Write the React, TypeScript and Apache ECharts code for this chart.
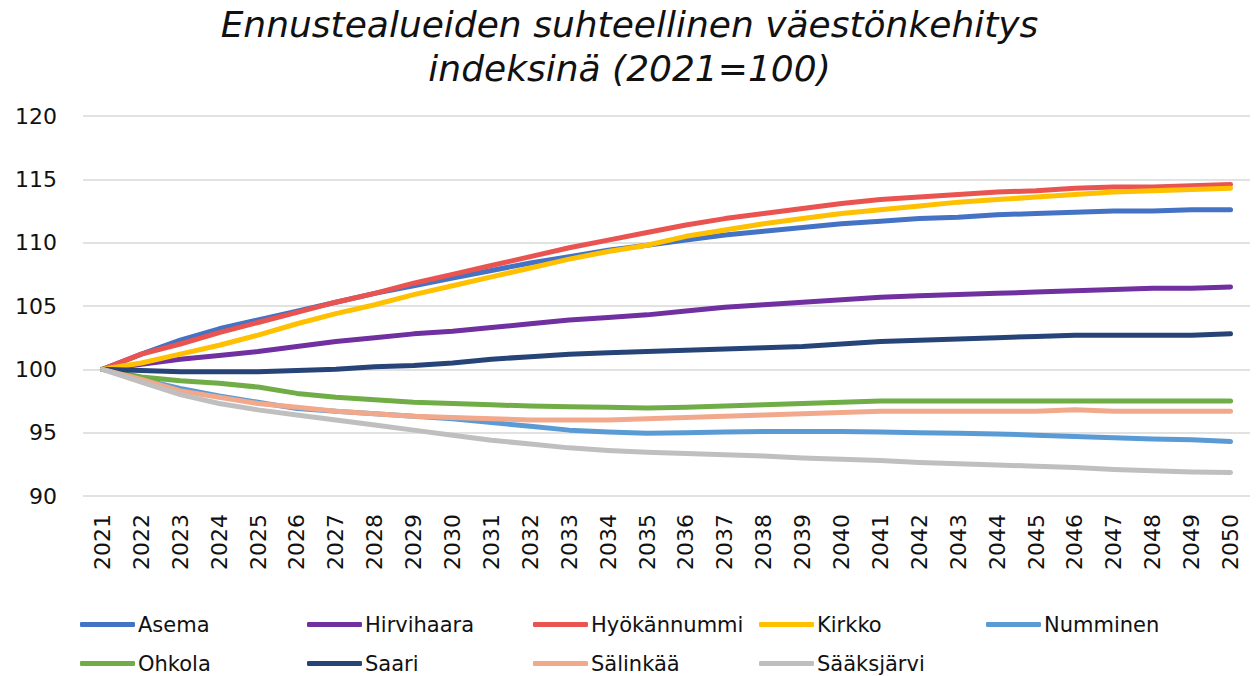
import React, { useEffect, useRef } from "react";
import * as echarts from "echarts";

const years = [
  "2021","2022","2023","2024","2025","2026","2027","2028","2029","2030",
  "2031","2032","2033","2034","2035","2036","2037","2038","2039","2040",
  "2041","2042","2043","2044","2045","2046","2047","2048","2049","2050",
];

const asema = [100, 101.2, 102.3, 103.2, 103.9, 104.6, 105.3, 106.0, 106.6, 107.2, 107.8, 108.4, 108.9, 109.4, 109.8, 110.2, 110.6, 110.9, 111.2, 111.5, 111.7, 111.9, 112.0, 112.2, 112.3, 112.4, 112.5, 112.5, 112.6, 112.6];
const hirvihaara = [100, 100.4, 100.8, 101.1, 101.4, 101.8, 102.2, 102.5, 102.8, 103.0, 103.3, 103.6, 103.9, 104.1, 104.3, 104.6, 104.9, 105.1, 105.3, 105.5, 105.7, 105.8, 105.9, 106.0, 106.1, 106.2, 106.3, 106.4, 106.4, 106.5];
const hyokannummi = [100, 101.2, 102.0, 102.9, 103.7, 104.5, 105.3, 106.0, 106.8, 107.5, 108.2, 108.9, 109.6, 110.2, 110.8, 111.4, 111.9, 112.3, 112.7, 113.1, 113.4, 113.6, 113.8, 114.0, 114.1, 114.3, 114.4, 114.4, 114.5, 114.6];
const kirkko = [100, 100.5, 101.2, 101.9, 102.7, 103.6, 104.4, 105.1, 105.9, 106.6, 107.3, 108.0, 108.7, 109.3, 109.8, 110.5, 111.0, 111.5, 111.9, 112.3, 112.6, 112.9, 113.2, 113.4, 113.6, 113.8, 114.0, 114.1, 114.2, 114.3];
const numminen = [100, 99.2, 98.5, 97.9, 97.4, 96.9, 96.7, 96.5, 96.3, 96.1, 95.8, 95.5, 95.2, 95.05, 94.95, 95.0, 95.05, 95.1, 95.1, 95.1, 95.05, 95.0, 94.95, 94.9, 94.8, 94.7, 94.6, 94.5, 94.45, 94.3];
const ohkola = [100, 99.4, 99.1, 98.9, 98.6, 98.1, 97.8, 97.6, 97.4, 97.3, 97.2, 97.1, 97.05, 97.0, 96.95, 97.0, 97.1, 97.2, 97.3, 97.4, 97.5, 97.5, 97.5, 97.5, 97.5, 97.5, 97.5, 97.5, 97.5, 97.5];
const saari = [100, 99.9, 99.8, 99.8, 99.8, 99.9, 100.0, 100.2, 100.3, 100.5, 100.8, 101.0, 101.2, 101.3, 101.4, 101.5, 101.6, 101.7, 101.8, 102.0, 102.2, 102.3, 102.4, 102.5, 102.6, 102.7, 102.7, 102.7, 102.7, 102.8];
const salinkaa = [100, 99.2, 98.3, 97.8, 97.3, 97.0, 96.7, 96.5, 96.3, 96.2, 96.1, 96.0, 96.0, 96.0, 96.1, 96.2, 96.3, 96.4, 96.5, 96.6, 96.7, 96.7, 96.7, 96.7, 96.7, 96.8, 96.7, 96.7, 96.7, 96.7];
const saaksjarvi = [100, 99.0, 98.0, 97.3, 96.8, 96.4, 96.0, 95.6, 95.2, 94.8, 94.4, 94.1, 93.8, 93.6, 93.45, 93.35, 93.25, 93.15, 93.0, 92.9, 92.8, 92.65, 92.55, 92.45, 92.35, 92.25, 92.1, 92.0, 91.9, 91.85];

const seriesNames = ["Asema", "Hirvihaara", "Hyökännummi", "Kirkko", "Numminen", "Ohkola", "Saari", "Sälinkää", "Sääksjärvi"];
const seriesValues = [asema, hirvihaara, hyokannummi, kirkko, numminen, ohkola, saari, salinkaa, saaksjarvi];
const colors = ["#4472C4", "#7030A0", "#EA5450", "#FFC000", "#5B9BD5", "#70AD47", "#264478", "#F2A98B", "#BFBFBF"];

const legendPos = [
  { left: 80, top: 614 }, { left: 307, top: 614 }, { left: 533, top: 614 }, { left: 759, top: 614 }, { left: 986, top: 614 },
  { left: 80, top: 653 }, { left: 307, top: 653 }, { left: 533, top: 653 }, { left: 759, top: 653 },
];

const FONT = "DejaVu Sans";

export default function App() {
  const ref = useRef<HTMLDivElement>(null);
  useEffect(() => {
    document.body.style.margin = "0";
    const chart = echarts.init(ref.current!, null, { renderer: "svg" });
    chart.setOption({
      animation: false,
      backgroundColor: "#ffffff",
      title: {
        text: "Ennustealueiden suhteellinen väestönkehitys\nindeksinä (2021=100)",
        left: "center",
        top: -3,
        textStyle: {
          fontFamily: FONT,
          fontStyle: "italic",
          fontWeight: "normal",
          fontSize: 36,
          lineHeight: 44,
          color: "#111111",
        },
      },
      grid: { left: 83, right: 9, top: 116, bottom: 180, containLabel: false },
      xAxis: {
        type: "category",
        data: years,
        boundaryGap: true,
        axisLine: { show: false },
        axisTick: { show: false },
        axisLabel: {
          rotate: 90,
          margin: 18,
          fontFamily: FONT,
          fontSize: 22,
          color: "#111111",
          interval: 0,
        },
      },
      yAxis: {
        type: "value",
        min: 90,
        max: 120,
        interval: 5,
        axisLine: { show: false },
        axisTick: { show: false },
        splitLine: { lineStyle: { color: "#D9D9D9", width: 1.5 } },
        axisLabel: { margin: 26, fontFamily: FONT, fontSize: 22, color: "#111111" },
      },
      legend: seriesNames.map((n, i) => ({
        data: [n],
        left: legendPos[i].left,
        top: legendPos[i].top,
        icon: "roundRect",
        itemWidth: 55,
        itemHeight: 5,
        itemGap: 0,
        padding: 0,
        textStyle: { fontFamily: FONT, fontSize: 21, color: "#111111", padding: [0, 0, 0, -2] },
      })),
      series: seriesNames.map((n, i) => ({
        name: n,
        type: "line",
        data: seriesValues[i],
        showSymbol: false,
        symbol: "none",
        color: colors[i],
        lineStyle: { width: 5, color: colors[i], cap: "round", join: "round" },
      })),
    });
    return () => chart.dispose();
  }, []);
  return <div ref={ref} style={{ width: 1259, height: 676 }} />;
}
